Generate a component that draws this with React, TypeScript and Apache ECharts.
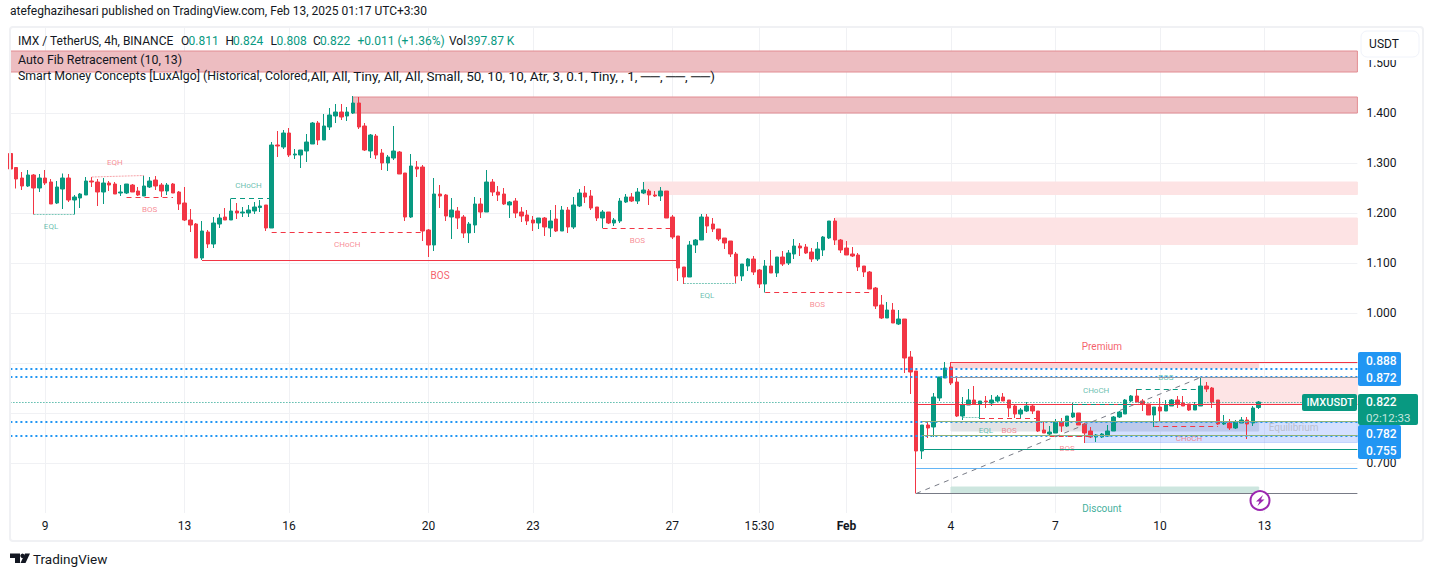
import React, { useEffect, useRef } from "react";
import * as echarts from "echarts";

const FONT = "Roboto, 'Noto Sans', sans-serif";
const UP = "#089981";
const DOWN = "#f23645";
const CATEGORY_COUNT = 233;

const tickIndexes = [6, 30, 48, 72, 90, 114, 129, 144, 162, 180, 198, 216];
const tickLabels = ["9", "13", "16", "20", "23", "27", "15:30", "Feb", "4", "7", "10", "13"];

const directions =
  "RRRGRGRRGG" + "RGGGRRGRRG" + "GRRGGRRGRR" + "RRRGRGGRGR" + "GGGGRGRGRG" +
  "GGGRGGGRGG" + "RRGRRGGRRG" + "RRRGRRGRRG" + "GRGRRRGRRR" + "RGRGRGRGGR" +
  "RRGRGGGRGG" + "RRGRRRRGGG" + "RRRRRRGGRR" + "GRGRGGRRRG" + "GGRRRRRRRR" +
  "RGRGRRRGRG" + "GGRRGGRGRG" + "GRRRGGRRRG" + "GRGGRRRGGG" + "GGGGRRRGRG" +
  "GRRRGGRRRG" + "RGGRGG";

const bodyTops = [
  1.319,1.291,1.270,1.276,1.276,1.270,1.270,1.262,1.252,1.270,
  1.270,1.232,1.238,1.264,1.264,1.262,1.260,1.260,1.258,1.242,
  1.258,1.256,1.244,1.254,1.264,1.266,1.256,1.256,1.258,1.242,
  1.220,1.186,1.178,1.164,1.162,1.180,1.190,1.192,1.204,1.204,
  1.202,1.206,1.212,1.214,1.216,1.336,1.336,1.360,1.360,1.318,
  1.326,1.342,1.380,1.380,1.374,1.396,1.402,1.402,1.402,1.420,
  1.420,1.374,1.356,1.354,1.320,1.312,1.324,1.322,1.280,1.294,
  1.292,1.292,1.166,1.238,1.238,1.236,1.206,1.204,1.192,1.178,
  1.218,1.218,1.262,1.262,1.242,1.238,1.222,1.224,1.202,1.196,
  1.186,1.190,1.190,1.184,1.188,1.206,1.206,1.216,1.240,1.240,
  1.234,1.212,1.202,1.202,1.186,1.224,1.232,1.232,1.242,1.246,
  1.244,1.236,1.244,1.244,1.192,1.154,1.092,1.136,1.146,1.192,
  1.192,1.178,1.168,1.150,1.144,1.118,1.098,1.108,1.108,1.086,
  1.094,1.094,1.112,1.112,1.120,1.134,1.134,1.132,1.122,1.128,
  1.152,1.184,1.184,1.146,1.130,1.118,1.116,1.094,1.082,1.050,
  1.016,1.006,1.006,0.988,0.988,0.912,0.884,0.776,0.776,0.832,
  0.872,0.890,0.892,0.862,0.816,0.826,0.826,0.824,0.824,0.826,
  0.832,0.832,0.826,0.814,0.806,0.814,0.814,0.804,0.766,0.762,
  0.782,0.782,0.794,0.800,0.800,0.778,0.764,0.756,0.758,0.764,
  0.792,0.802,0.826,0.834,0.834,0.824,0.818,0.812,0.812,0.816,
  0.826,0.826,0.820,0.818,0.816,0.854,0.854,0.850,0.826,0.780,
  0.780,0.782,0.786,0.786,0.810,0.822,
];

const bodyBottoms = [
  1.288,1.268,1.254,1.254,1.250,1.250,1.260,1.218,1.220,1.248,
  1.226,1.226,1.230,1.236,1.262,1.242,1.242,1.256,1.238,1.240,
  1.240,1.242,1.236,1.234,1.252,1.254,1.244,1.244,1.240,1.218,
  1.186,1.176,1.110,1.110,1.138,1.138,1.178,1.186,1.186,1.200,
  1.200,1.200,1.204,1.211,1.170,1.170,1.334,1.332,1.316,1.316,
  1.316,1.324,1.338,1.346,1.346,1.372,1.394,1.392,1.394,1.400,
  1.372,1.326,1.324,1.316,1.300,1.300,1.310,1.278,1.192,1.192,
  1.288,1.164,1.136,1.136,1.234,1.194,1.192,1.190,1.160,1.160,
  1.176,1.202,1.202,1.242,1.236,1.218,1.216,1.200,1.194,1.184,
  1.180,1.180,1.172,1.170,1.164,1.164,1.172,1.172,1.214,1.232,
  1.210,1.190,1.190,1.180,1.180,1.184,1.222,1.224,1.224,1.240,
  1.236,1.234,1.234,1.190,1.152,1.090,1.072,1.072,1.136,1.146,
  1.174,1.168,1.148,1.140,1.118,1.074,1.074,1.094,1.082,1.058,
  1.058,1.080,1.080,1.098,1.100,1.118,1.130,1.120,1.108,1.108,
  1.126,1.150,1.146,1.126,1.116,1.114,1.092,1.082,1.048,1.014,
  0.990,0.990,0.980,0.978,0.910,0.882,0.724,0.724,0.770,0.772,
  0.830,0.870,0.860,0.794,0.794,0.816,0.818,0.818,0.822,0.820,
  0.824,0.824,0.810,0.798,0.798,0.804,0.804,0.764,0.760,0.758,
  0.760,0.774,0.774,0.792,0.776,0.760,0.752,0.752,0.752,0.754,
  0.764,0.792,0.798,0.824,0.822,0.818,0.796,0.796,0.804,0.804,
  0.814,0.818,0.814,0.806,0.806,0.814,0.848,0.822,0.778,0.778,
  0.770,0.770,0.780,0.778,0.780,0.811,
];

const highs = [
  1.334,1.291,1.282,1.286,1.278,1.278,1.286,1.268,1.264,1.279,
  1.278,1.236,1.240,1.272,1.272,1.268,1.270,1.264,1.262,1.256,
  1.258,1.258,1.252,1.276,1.272,1.274,1.260,1.260,1.260,1.244,
  1.252,1.208,1.180,1.184,1.166,1.192,1.198,1.210,1.229,1.220,
  1.212,1.216,1.222,1.226,1.216,1.342,1.364,1.366,1.370,1.328,
  1.326,1.358,1.382,1.384,1.398,1.410,1.418,1.418,1.412,1.434,
  1.432,1.380,1.358,1.358,1.328,1.316,1.374,1.324,1.280,1.318,
  1.304,1.296,1.168,1.270,1.256,1.238,1.230,1.212,1.196,1.182,
  1.232,1.230,1.286,1.268,1.254,1.250,1.224,1.230,1.212,1.206,
  1.194,1.190,1.192,1.206,1.216,1.214,1.212,1.232,1.248,1.254,
  1.246,1.212,1.206,1.202,1.190,1.230,1.238,1.240,1.250,1.262,
  1.248,1.244,1.252,1.244,1.196,1.154,1.092,1.144,1.148,1.198,
  1.198,1.190,1.168,1.150,1.144,1.122,1.098,1.110,1.114,1.088,
  1.106,1.126,1.112,1.124,1.126,1.148,1.140,1.138,1.130,1.142,
  1.154,1.184,1.190,1.148,1.144,1.132,1.120,1.094,1.084,1.052,
  1.036,1.022,1.020,1.006,0.988,0.924,0.884,0.776,0.784,0.840,
  0.872,0.902,0.902,0.874,0.832,0.848,0.854,0.824,0.834,0.836,
  0.836,0.840,0.826,0.816,0.810,0.822,0.816,0.804,0.782,0.774,
  0.788,0.790,0.794,0.820,0.800,0.780,0.772,0.758,0.760,0.776,
  0.794,0.804,0.828,0.836,0.848,0.828,0.818,0.812,0.830,0.826,
  0.828,0.834,0.834,0.818,0.822,0.871,0.862,0.852,0.826,0.796,
  0.788,0.786,0.792,0.792,0.814,0.824,
];

const lows = [
  1.281,1.249,1.246,1.252,1.197,1.242,1.256,1.218,1.218,1.208,
  1.222,1.197,1.210,1.236,1.252,1.214,1.218,1.244,1.238,1.234,
  1.238,1.242,1.234,1.234,1.250,1.246,1.232,1.236,1.240,1.206,
  1.184,1.162,1.110,1.106,1.130,1.130,1.170,1.186,1.186,1.188,
  1.192,1.192,1.198,1.202,1.164,1.170,1.312,1.328,1.312,1.308,
  1.290,1.302,1.338,1.336,1.346,1.366,1.380,1.386,1.384,1.398,
  1.368,1.324,1.310,1.308,1.286,1.284,1.306,1.278,1.184,1.190,
  1.272,1.144,1.112,1.124,1.210,1.184,1.148,1.168,1.150,1.140,
  1.160,1.190,1.202,1.234,1.224,1.216,1.190,1.190,1.182,1.176,
  1.164,1.168,1.154,1.152,1.162,1.164,1.160,1.168,1.212,1.220,
  1.206,1.184,1.170,1.178,1.174,1.180,1.220,1.222,1.218,1.238,
  1.216,1.232,1.224,1.190,1.148,1.064,1.058,1.072,1.120,1.146,
  1.160,1.162,1.144,1.128,1.112,1.060,1.064,1.084,1.076,1.050,
  1.041,1.080,1.072,1.094,1.096,1.108,1.114,1.118,1.102,1.104,
  1.114,1.148,1.136,1.120,1.116,1.112,1.084,1.072,1.048,1.008,
  0.988,0.990,0.980,0.976,0.880,0.838,0.639,0.708,0.750,0.752,
  0.824,0.870,0.856,0.792,0.786,0.816,0.816,0.788,0.810,0.814,
  0.822,0.824,0.792,0.790,0.790,0.802,0.798,0.762,0.760,0.754,
  0.760,0.762,0.772,0.790,0.776,0.740,0.750,0.742,0.750,0.752,
  0.764,0.790,0.798,0.822,0.822,0.804,0.796,0.772,0.784,0.804,
  0.814,0.810,0.814,0.804,0.806,0.814,0.842,0.810,0.776,0.776,
  0.766,0.768,0.780,0.748,0.774,0.808,
];

// [startIndex, endIndex, upperPrice, lowerPrice, fill, border]
const zones: [number, number, number, number, string, string][] = [
  [0, 232, 1.524, 1.482, "#edbdc1", "#e28c92"],
  [59, 232, 1.432, 1.4, "#edbdc1", "#e28c92"],
  [109, 232, 1.262, 1.237, "#fde3e4", "#fde3e4"],
  [142, 232, 1.19, 1.137, "#fde3e4", "#fde3e4"],
  [162, 215, 0.9, 0.89, "#fbd5d7", "#fbd5d7"],
  [205, 232, 0.872, 0.818, "#fde4e5", "#fde4e5"],
  [162, 215, 0.782, 0.764, "#e2e3e6", "#e2e3e6"],
  [185, 232, 0.782, 0.741, "rgba(41,98,255,0.2)", "rgba(41,98,255,0.2)"],
  [162, 215, 0.652, 0.64, "#cde6df", "#cde6df"],
];

const lineStyles: Record<string, any> = {
  red: { color: DOWN, width: 1, type: "solid" },
  redDash: { color: DOWN, width: 1, type: [5, 4] },
  tealDash: { color: UP, width: 1, type: [5, 4] },
  tealDot: { color: "#7cc8b9", width: 1, type: [2, 1] },
  paleDot: { color: "#f7a3a9", width: 1, type: [2, 1] },
  teal: { color: UP, width: 1, type: "solid" },
  grey: { color: "#787b86", width: 1, type: "solid" },
  greyBlue: { color: "#9598a1", width: 1, type: "solid" },
  olive: { color: "#8fb37a", width: 1, type: "solid" },
  sky: { color: "#64b5f6", width: 1, type: "solid" },
  blueDot: { color: "#2196f3", width: 2, type: [2, 3] },
  lastDot: { color: UP, width: 1, type: [1, 2] },
  fib: { color: "#787b86", width: 1, type: [5, 5] },
};

// [startIndex, startPrice, endIndex, endPrice, styleName]
const segments: [number, number, number, number, string][] = [
  [0, 0.888, 232, 0.888, "blueDot"],
  [0, 0.872, 232, 0.872, "blueDot"],
  [0, 0.782, 232, 0.782, "blueDot"],
  [0, 0.755, 232, 0.755, "blueDot"],
  [0, 0.821, 232, 0.821, "lastDot"],
  [4, 1.197, 11, 1.197, "tealDot"],
  [14, 1.272, 23, 1.275, "paleDot"],
  [20, 1.231, 28, 1.231, "redDash"],
  [38, 1.229, 45, 1.229, "tealDash"],
  [45, 1.161, 71, 1.161, "redDash"],
  [33, 1.105, 115, 1.105, "red"],
  [102, 1.169, 114, 1.169, "redDash"],
  [116, 1.059, 125, 1.059, "tealDot"],
  [130, 1.041, 148, 1.041, "redDash"],
  [162, 0.901, 232, 0.901, "red"],
  [162, 0.871, 232, 0.871, "greyBlue"],
  [156, 0.817, 232, 0.817, "red"],
  [157, 0.783, 232, 0.783, "olive"],
  [157, 0.755, 232, 0.755, "olive"],
  [157, 0.727, 232, 0.727, "teal"],
  [156, 0.689, 232, 0.689, "sky"],
  [156, 0.639, 232, 0.639, "grey"],
  [156, 0.639, 205, 0.871, "fib"],
  [164, 0.791, 167, 0.791, "tealDot"],
  [167, 0.789, 177, 0.789, "redDash"],
  [179, 0.753, 186, 0.753, "redDash"],
  [183, 0.818, 193, 0.818, "tealDash"],
  [194, 0.847, 205, 0.847, "tealDash"],
  [197, 0.773, 208, 0.773, "redDash"],
];

// [index, price, text, colour, fontSize]
const annotations: [number, number, string, string, number][] = [
  [18, 1.3014, "EQH", "#f56f7a", 8],
  [24, 1.2074, "BOS", "#f56f7a", 8],
  [7, 1.1726, "EQL", "#3fae9a", 8],
  [41, 1.2546, "CHoCH", "#3fae9a", 8],
  [58, 1.1374, "CHoCH", "#f56f7a", 8],
  [74, 1.076, "BOS", "#f23645", 10],
  [108, 1.1454, "BOS", "#f56f7a", 8],
  [120, 1.0346, "EQL", "#3fae9a", 8],
  [139, 1.0166, "BOS", "#f56f7a", 8],
  [188, 0.934, "Premium", "#f23645", 10],
  [188, 0.61, "Discount", "#089981", 10],
  [168, 0.7646, "EQL", "#3fae9a", 8],
  [172, 0.7646, "BOS", "#f56f7a", 8],
  [182, 0.7286, "BOS", "#f56f7a", 8],
  [187, 0.8446, "CHoCH", "#3fae9a", 8],
  [199, 0.8706, "BOS", "#3fae9a", 8],
  [203, 0.7486, "CHoCH", "#f56f7a", 8],
  [221, 0.7706, "Equilibrium", "#b2b5be", 10],
];

const headerText = "atefeghazihesari published on TradingView.com, Feb 13, 2025 01:17 UTC+3:30";
const symbolText = "IMX / TetherUS, 4h, BINANCE";
const fibText = "Auto Fib Retracement (10, 13)";
const smcTextStart = "Smart Money Concepts [LuxAlgo] (Historical, Colored,";
const smcTextEnd = "All, All, Tiny, All, All, Small, 50, 10, 10, Atr, 3, 0.1, Tiny, , 1, ──, ──, ──)";
const ohlcLabels: [number, string, string][] = [
  [181, "O", "#131722"], [188.5, "0.811", UP],
  [225.5, "H", "#131722"], [233, "0.824", UP],
  [270.5, "L", "#131722"], [276.5, "0.808", UP],
  [313, "C", "#131722"], [320, "0.822", UP],
  [357.5, "+0.011 (+1.36%)", UP],
  [449, "Vol", "#131722"], [467, "397.87 K", UP],
];
const blueTags: [string, number][] = [["0.888", 360.5], ["0.872", 377.5], ["0.782", 434], ["0.755", 451]];

const candleData = directions.split("").map((d, i) =>
  d === "G"
    ? [bodyBottoms[i], bodyTops[i], lows[i], highs[i]]
    : [bodyTops[i], bodyBottoms[i], lows[i], highs[i]]
);
const categories = Array.from({ length: CATEGORY_COUNT }, (_, i) => {
  const k = tickIndexes.indexOf(i);
  return k >= 0 ? tickLabels[k] : "";
});

const txt = (x: number, y: number, text: string, fill: string, fontSize = 12, extra: any = {}) => ({
  type: "text",
  z: 100,
  silent: true,
  x,
  y,
  style: { text, fill, fontSize, fontFamily: FONT, textVerticalAlign: "middle", ...extra },
});
const box = (x: number, y: number, width: number, height: number, fill: string, r: any = 2, extra: any = {}) => ({
  type: "rect",
  z: 99,
  silent: true,
  shape: { x, y, width, height, r },
  style: { fill, ...extra },
});

export default function App() {
  const ref = useRef<HTMLDivElement>(null);
  useEffect(() => {
    const chart = echarts.init(ref.current!, null, { renderer: "svg" });
    chart.setOption({
      animation: false,
      backgroundColor: "#ffffff",
      grid: { left: 10.4, top: 28, width: 1347, height: 485, containLabel: false },
      xAxis: {
        type: "category",
        data: categories,
        boundaryGap: false,
        axisLine: { show: false },
        axisTick: { show: false },
        splitLine: {
          show: true,
          interval: (i: number) => tickIndexes.includes(i),
          lineStyle: { color: "#f0f1f4", width: 1 },
        },
        axisLabel: {
          interval: (i: number) => tickIndexes.includes(i),
          margin: 7,
          color: "#131722",
          fontSize: 12,
          fontFamily: FONT,
          formatter: (v: string) => (v === "Feb" ? "{b|Feb}" : v),
          rich: { b: { fontWeight: 700, fontSize: 12, fontFamily: FONT, color: "#131722" } },
        },
      },
      yAxis: {
        type: "value",
        position: "right",
        min: 0.6,
        max: 1.57,
        interval: 0.1,
        axisLine: { show: false },
        axisTick: { show: false },
        splitLine: { show: true, showMinLine: false, showMaxLine: false, lineStyle: { color: "#f0f1f4", width: 1 } },
        axisLabel: {
          margin: 9,
          color: "#131722",
          fontSize: 12,
          fontFamily: FONT,
          showMinLabel: false,
          showMaxLabel: false,
          formatter: (v: number) => v.toFixed(3),
        },
      },
      series: [
        {
          type: "line",
          z: 1,
          data: [],
          silent: true,
          markArea: {
            silent: true,
            data: zones.map(([a, b, hi, lo, fill, border]) => [
              { coord: [a, hi], itemStyle: { color: fill, borderColor: border, borderWidth: 1, opacity: 1 } },
              { coord: [b, lo] },
            ]),
          },
        },
        {
          type: "line",
          z: 2,
          data: [],
          silent: true,
          markLine: {
            silent: true,
            symbol: "none",
            label: { show: false },
            data: segments.map(([a, p, b, q, s]) => [
              { coord: [a, p], lineStyle: lineStyles[s] },
              { coord: [b, q] },
            ]),
          },
        },
        {
          type: "candlestick",
          z: 3,
          data: candleData,
          barWidth: 4,
          silent: true,
          itemStyle: { color: UP, color0: DOWN, borderColor: UP, borderColor0: DOWN, borderWidth: 1 },
        },
        {
          type: "scatter",
          z: 4,
          silent: true,
          symbolSize: 0,
          data: annotations.map(([i, p, text, color, fontSize]) => ({
            value: [i, p],
            label: { show: true, position: "inside", formatter: text, color, fontSize, fontFamily: FONT },
          })),
        },
      ],
      graphic: [
        box(10, 27, 1413, 514, "none", 3, { stroke: "#f0f1f4", lineWidth: 2 }),
        txt(10, 11, headerText, "#131722", 12),
        txt(18, 41, symbolText, "#131722", 12),
        ...ohlcLabels.map(([x, t, c]) => txt(x, 41, t, c, 12)),
        txt(18, 59, fibText, "#131722", 12.4),
        txt(18, 76, smcTextStart, "#131722", 12.3),
        txt(310.7, 76, smcTextEnd, "#131722", 13.5),
        box(1358, 56, 62, 4, "#ffffff", 0),
        box(1361, 31, 58, 26, "#ffffff", 6, { stroke: "#f0f3fa", lineWidth: 1 }),
        txt(1384, 44, "USDT", "#131722", 12, { textAlign: "center" }),
        box(1358, 352, 43, 34, "#2196f3"),
        box(1358, 425, 43, 34, "#2196f3"),
        ...blueTags.map(([t, y]) => txt(1366, y, t, "#ffffff", 12, { fontWeight: 500 })),
        box(1302, 394, 55, 17, UP),
        txt(1306.5, 402.5, "IMXUSDT", "#ffffff", 11, { fontWeight: 500 }),
        box(1358, 394, 60, 31, UP),
        txt(1366, 402, "0.822", "#ffffff", 12, { fontWeight: 500 }),
        txt(1366, 417.5, "02:12:33", "#c4e6df", 11.5),
        {
          type: "circle",
          z: 99,
          silent: true,
          shape: { cx: 1260, cy: 500.5, r: 9.5 },
          style: { fill: "#ffffff", stroke: "#9c27b0", lineWidth: 2 },
        },
        {
          type: "polygon",
          z: 100,
          silent: true,
          shape: { points: [[1263, 495], [1256, 501.5], [1259.5, 501.5], [1257.5, 506], [1264.5, 499.5], [1261, 499.5]] },
          style: { fill: "#9c27b0" },
        },
        {
          type: "polygon",
          z: 100,
          silent: true,
          shape: { points: [[10, 553.5], [20, 553.5], [20, 563], [15, 563], [15, 558], [10, 558]] },
          style: { fill: "#131722" },
        },
        { type: "circle", z: 100, silent: true, shape: { cx: 22.5, cy: 555.8, r: 2.2 }, style: { fill: "#131722" } },
        {
          type: "polygon",
          z: 100,
          silent: true,
          shape: { points: [[25, 553.5], [30, 553.5], [25.5, 563], [20.5, 563]] },
          style: { fill: "#131722" },
        },
        txt(33, 558.5, "TradingView", "#131722", 13.5),
      ],
    });
    return () => chart.dispose();
  }, []);
  return (
    <div ref={ref} style={{ position: "fixed", left: 0, top: 0, width: 1433, height: 576, background: "#fff" }} />
  );
}
